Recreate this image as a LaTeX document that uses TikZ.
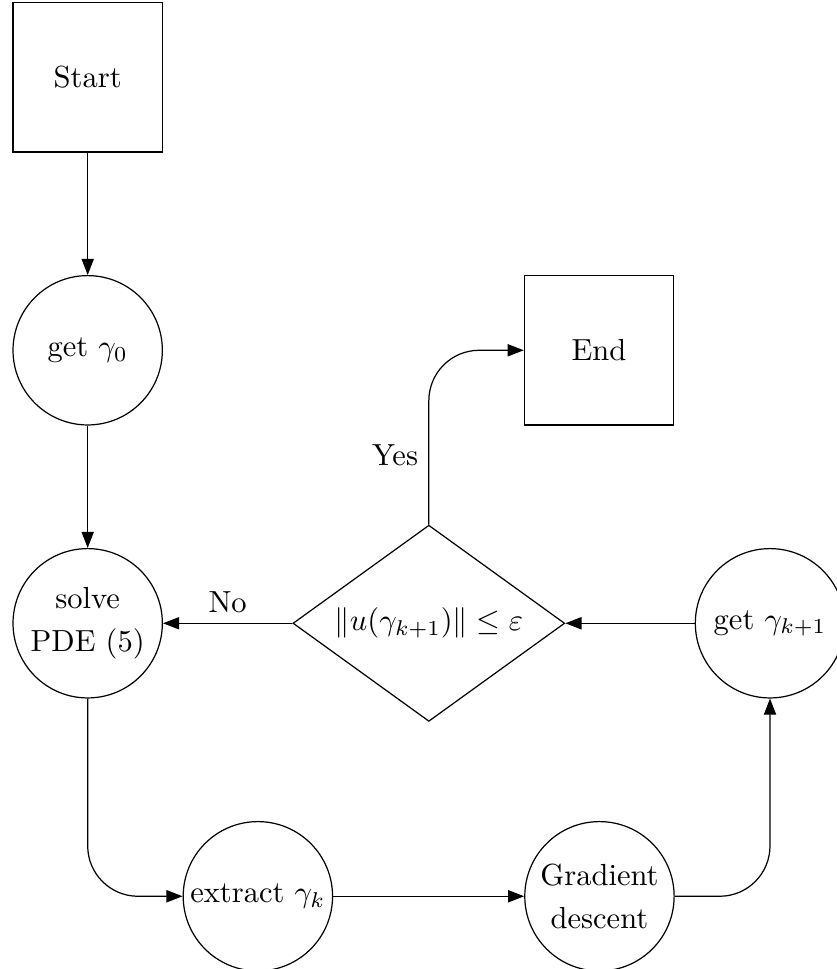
\documentclass[tikz,border=0pt]{standalone}
\usetikzlibrary{arrows.meta, positioning, shapes.geometric}

\begin{document}
\begin{tikzpicture}[
        sq/.style={rectangle, draw, minimum size=1.72cm, inner sep=0pt},
        rnd/.style={circle, draw, minimum size=1.72cm, inner sep=0pt, align=center},
        test/.style={diamond, draw, aspect=1.39, minimum width=3.13cm,
                     minimum height=2.26cm, inner sep=0pt},
        arr/.style={-{Triangle[length=5.3pt,width=4pt]}},
        node distance=1.41cm]
      \useasboundingbox (0,0) rectangle (9.63,-11.16);
      \node[sq] (start) at (1.01,-0.89) {Start};
      \node[rnd, below=of start] (init) {get $\gamma_0$};
      \node[rnd, below=of init] (solve) {solve\\[2pt]PDE (5)};
      \node[test, right=1.49cm of solve] (check) {$\|u(\gamma_{k+1})\| \leq \varepsilon$};
      \node[rnd, right=1.49cm of check] (update) {get $\gamma_{k+1}$};
      \node[sq, above=1.14cm of check, xshift=1.96cm] (end) {End};
      \node[rnd, below=of solve, xshift=1.96cm] (extract) {extract $\gamma_k$};
      \node[rnd, right=2.2cm of extract] (grad) {Gradient\\[2pt]descent};
      \draw[arr] (start) -- (init);
      \draw[arr] (init) -- (solve);
      \draw[arr, rounded corners=0.58cm] (solve) |- (extract);
      \draw[arr] (extract) -- (grad);
      \draw[arr, rounded corners=0.58cm] (grad) -| (update);
      \draw[arr] (update) -- (check);
      \draw[arr] (check) -- node[above] {No} (solve);
      \draw[arr, rounded corners=0.58cm] (check) |- node[pos=0.2, left] {Yes} (end);
\end{tikzpicture}
\end{document}
